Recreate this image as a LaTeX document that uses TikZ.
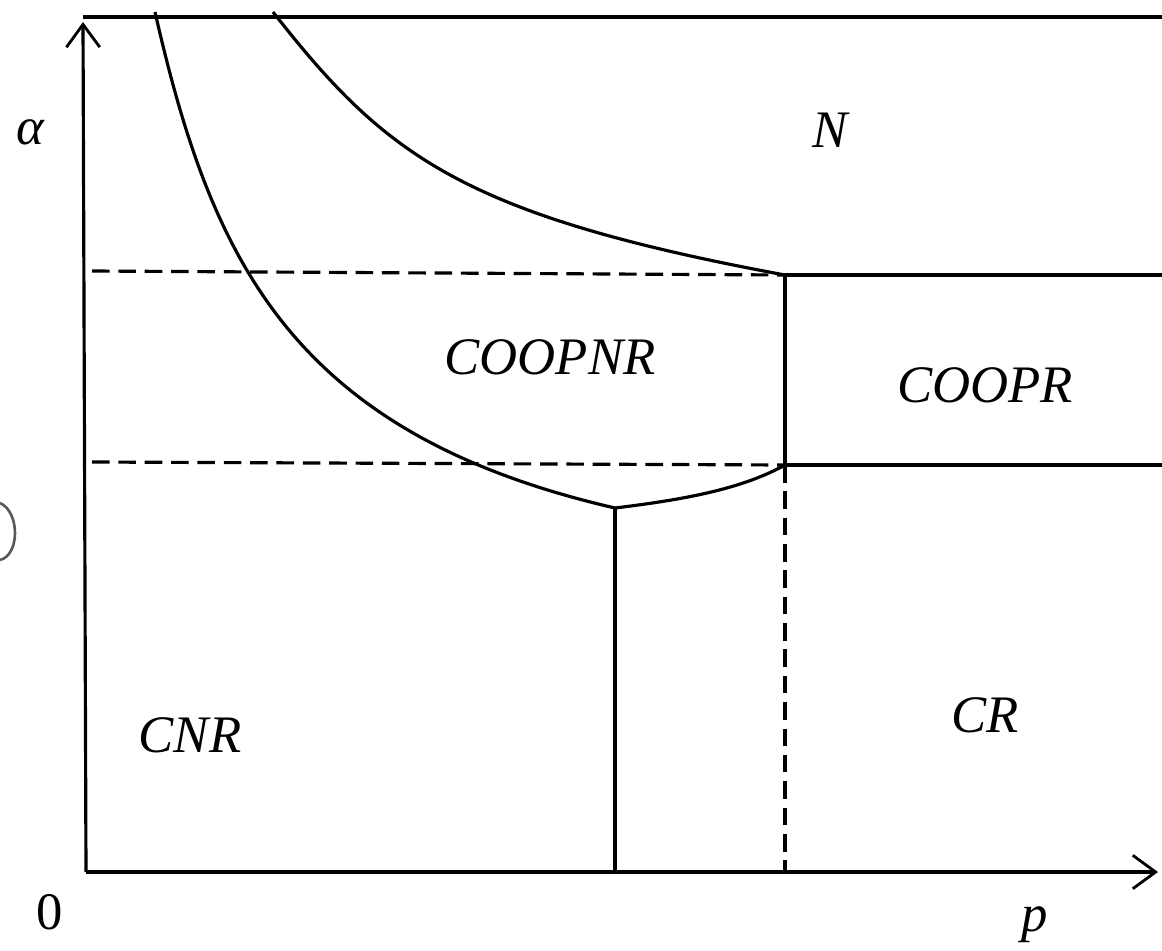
\documentclass[tikz,border=0pt]{standalone}
\usepackage{fontspec}
\setmainfont{Liberation Serif}
\usetikzlibrary{arrows.meta}
\tikzset{
  region/.style={font=\fontsize{30}{34}\selectfont\itshape},
  axlbl/.style={font=\fontsize{30}{34}\selectfont},
  bound/.style={line width=1.8pt},
  guide/.style={line width=1.8pt,dash pattern=on 10pt off 5pt},
  axis/.style={line width=1.8pt,-{Straight Barb[length=13pt,width=19pt,line width=1.6pt]}}
}
\begin{document}
\begin{tikzpicture}[x=0.02cm,y=-0.02cm]
\useasboundingbox (0,0) rectangle (1162,950);
% key points
\coordinate (o) at (86,872);
\coordinate (ytip) at (83,22);
\coordinate (xtip) at (1158,872);
\coordinate (topl) at (83,17);
\coordinate (topr) at (1162,17);
\coordinate (outer) at (155,12);
\coordinate (inner) at (273,12);
\coordinate (a) at (785,275);
\coordinate (b) at (785,465);
\coordinate (c) at (615,508);
\coordinate (ar) at (1162,275);
\coordinate (br) at (1162,465);
\coordinate (al) at (92,271);
\coordinate (bl) at (92,462);
\coordinate (cx) at (615,872);
\coordinate (bx) at (785,872);
% axes and frame
\draw[axis] (o) -- (ytip);
\draw[axis] (o) -- (xtip);
\draw[bound] (topl) -- (topr);
% boundaries
\draw[bound] (outer) .. controls (211,258) and (290,433) .. (c);
\draw[bound] (c) .. controls (680,500) and (740,490) .. (b);
\draw[bound] (inner) .. controls (385,155) and (461,215) .. (a);
\draw[bound] (a) -- (b);
\draw[bound] (a) -- (ar);
\draw[bound] (b) -- (br);
\draw[bound] (c) -- (cx);
\draw[guide] (al) -- (a);
\draw[guide] (bl) -- (b);
\draw[guide] (b) -- (bx);
% stray mark at left edge
\draw[line width=1.5pt,gray!70!black] (0,503) .. controls (20,512) and (20,555) .. (0,560);
% labels
\node[axlbl] (alpha) at (30,132) {\itshape α};
\node[axlbl] (zero) at (50,912) {0};
\node[axlbl] (pl) at (1035,925) {\itshape p};
\node[region] (N) at (830,130) {N};
\node[region] (COOPNR) at (550,357) {COOPNR};
\node[region] (COOPR) at (985,385) {COOPR};
\node[region] (CNR) at (190,735) {CNR};
\node[region] (CR) at (985,715) {CR};
\end{tikzpicture}
\end{document}
